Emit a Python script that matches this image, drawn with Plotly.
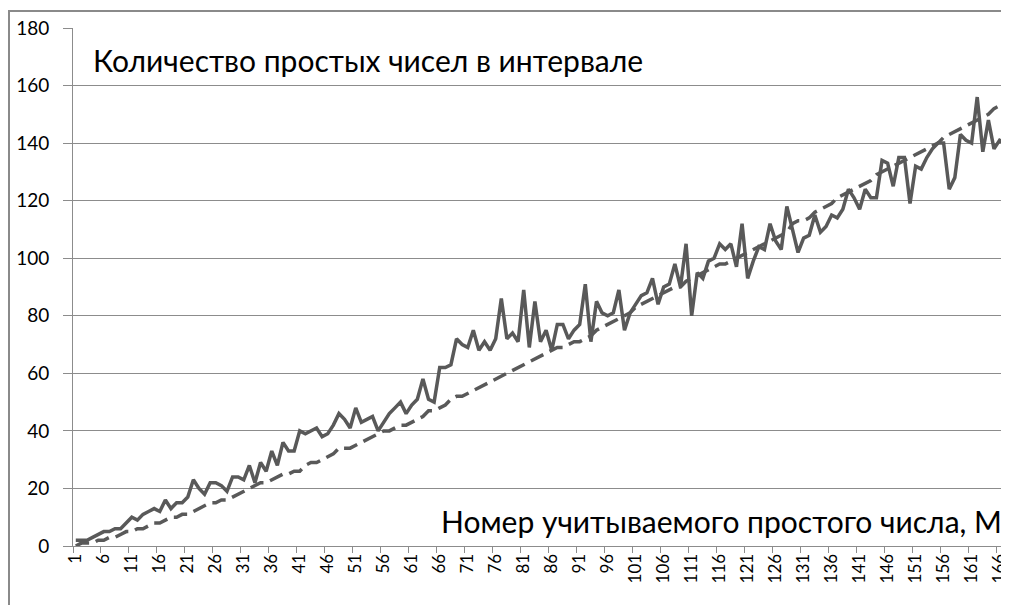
import plotly.graph_objects as go

categories = [str(i) for i in range(1, 168)]

actual_counts = [
    2, 2, 2, 3, 4, 5, 5, 6, 6, 8,
    10, 9, 11, 12, 13, 12, 16, 13, 15, 15,
    17, 23, 20, 18, 22, 22, 21, 19, 24, 24,
    23, 28, 22, 29, 26, 33, 28, 36, 33, 33,
    40, 39, 40, 41, 38, 39, 42, 46, 44, 41,
    48, 43, 44, 45, 40, 43, 46, 48, 50, 46,
    49, 51, 58, 51, 50, 62, 62, 63, 72, 70,
    69, 75, 68, 71, 68, 72, 86, 72, 74, 71,
    89, 69, 85, 71, 75, 68, 77, 77, 72, 75,
    77, 91, 71, 85, 81, 80, 81, 89, 75, 81,
    84, 87, 88, 93, 84, 90, 91, 98, 90, 105,
    80, 95, 93, 99, 100, 105, 103, 105, 97, 112,
    93, 99, 104, 103, 112, 106, 103, 118, 110, 102,
    107, 108, 115, 109, 111, 115, 114, 117, 124, 121,
    117, 124, 121, 121, 134, 133, 125, 135, 135, 119,
    132, 131, 135, 138, 140, 140, 124, 128, 143, 141,
    140, 156, 137, 148, 138, 141, 140,
]

expected_counts = [
    0, 1, 1, 1, 2, 2, 3, 3, 4, 5,
    5, 6, 6, 7, 8, 8, 9, 10, 10, 11,
    11, 12, 13, 14, 15, 15, 16, 16, 17, 18,
    19, 20, 21, 22, 22, 23, 24, 25, 25, 26,
    26, 28, 29, 29, 30, 31, 32, 34, 34, 34,
    35, 36, 37, 38, 39, 40, 40, 41, 42, 42,
    43, 44, 45, 47, 47, 48, 49, 51, 52, 52,
    53, 54, 55, 56, 57, 58, 59, 60, 61, 62,
    63, 64, 65, 66, 67, 68, 69, 69, 70, 71,
    71, 72, 73, 75, 76, 77, 78, 79, 80, 81,
    83, 84, 85, 86, 87, 88, 89, 90, 90, 92,
    93, 94, 95, 96, 97, 98, 98, 99, 100, 101,
    102, 103, 104, 105, 106, 107, 108, 109, 112, 113,
    113, 114, 116, 117, 118, 119, 121, 122, 123, 124,
    125, 126, 127, 129, 130, 131, 132, 133, 134, 135,
    136, 137, 138, 139, 140, 142, 143, 144, 145, 146,
    147, 148, 149, 150, 152, 153, 155,
]

y_ticks = [0, 20, 40, 60, 80, 100, 120, 140, 160, 180]

chart_title = "Количество простых чисел в интервале"
x_title = "Номер учитываемого простого числа, М"

LINE = "#595959"
GRID = "#8c8c8c"
FONT = "Lato"

fig = go.Figure()
fig.add_trace(go.Scatter(
    x=categories, y=expected_counts, mode="lines",
    line=dict(color=LINE, width=3.5, dash="14px,7px"),
    showlegend=False, hoverinfo="skip",
))
fig.add_trace(go.Scatter(
    x=categories, y=actual_counts, mode="lines",
    line=dict(color=LINE, width=3.5),
    showlegend=False, hoverinfo="skip",
))

# page has an 8px body margin; figure spans page x 8..1009, y 8..605
OFF = 8
W, H = 1009 - OFF, 605 - OFF
L, T = 73 - OFF, 28 - OFF
R = W - (1008 - OFF)
B = H - (546 - OFF)
pw = W - L - R
ph = H - T - B

def px_x(x):
    return (x - OFF - L) / pw

def px_y(y):
    return (H - B - (y - OFF)) / ph

fig.update_layout(
    width=W, height=H,
    margin=dict(l=L, r=R, t=T, b=B),
    paper_bgcolor="white", plot_bgcolor="white",
    font=dict(family=FONT, color="#000000", size=18),
    xaxis=dict(
        type="category", range=[-0.5, len(categories) - 0.5],
        tickmode="linear", tick0=0, dtick=5, tickson="boundaries",
        tickangle=-90, ticks="outside", ticklen=6, tickcolor=GRID,
        showgrid=False, showline=True, linecolor=GRID, linewidth=1,
        tickfont=dict(family=FONT, size=17, color="#000000"),
        zeroline=False,
    ),
    yaxis=dict(
        range=[0, 180], tickvals=y_ticks, ticks="outside", ticklen=9,
        tickcolor=GRID, showgrid=True, gridcolor=GRID, gridwidth=1,
        showline=True, linecolor=GRID, linewidth=1, zeroline=False,
        ticklabelstandoff=10,
        tickfont=dict(family=FONT, size=19, color="#000000"),
    ),
    shapes=[dict(
        type="rect", xref="paper", yref="paper",
        x0=px_x(9), x1=px_x(1040), y0=px_y(660), y1=px_y(11),
        line=dict(color="#8a8a8a", width=2), fillcolor="rgba(0,0,0,0)",
        layer="below",
    )],
    annotations=[
        dict(text=chart_title, xref="paper", yref="paper",
             x=px_x(91), y=px_y(60), xanchor="left", yanchor="middle",
             showarrow=False, font=dict(family=FONT, size=30, color="#000000")),
        dict(text=x_title, xref="paper", yref="paper",
             x=px_x(1004), y=px_y(521), xanchor="right", yanchor="middle",
             showarrow=False, font=dict(family=FONT, size=30, color="#000000")),
    ],
)

fig.write_html("out.html")
